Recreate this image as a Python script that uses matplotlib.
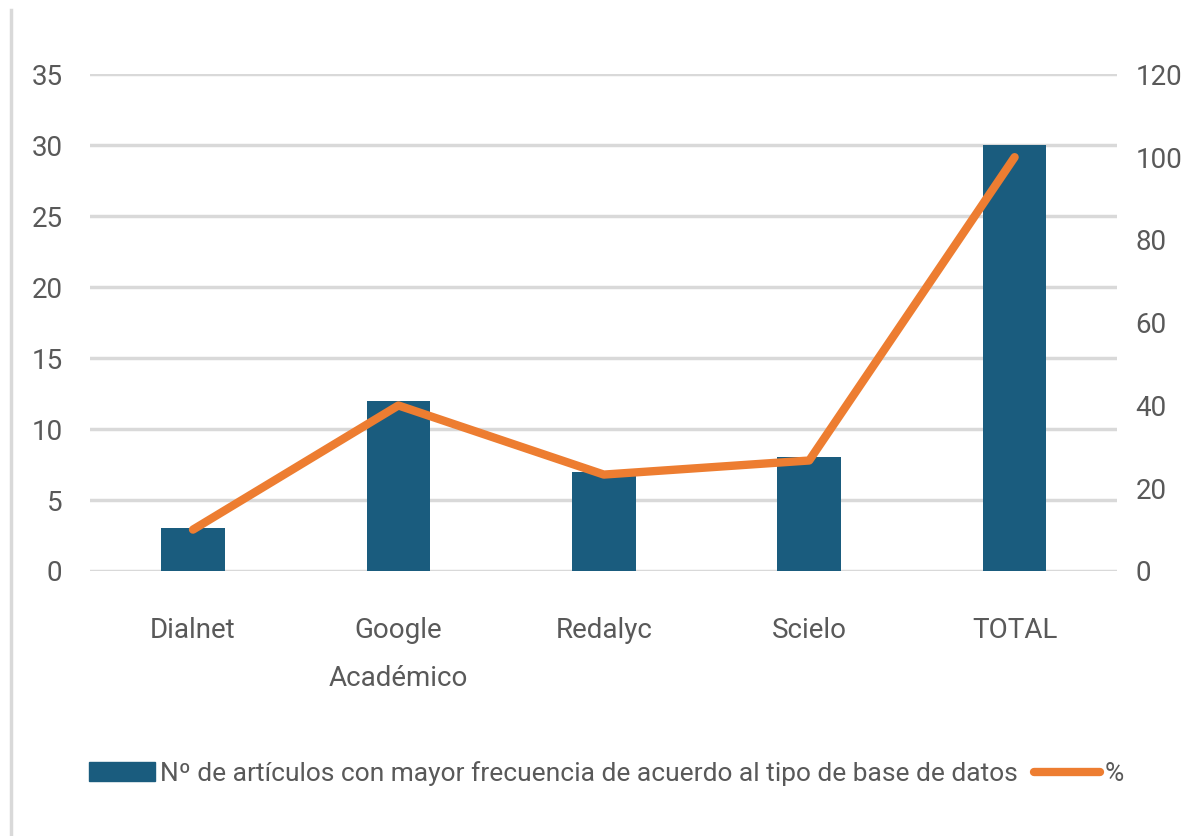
import matplotlib.pyplot as plt
from matplotlib.patches import Patch
from matplotlib.lines import Line2D

# Data
categories = ['Dialnet', 'Google\nAcadémico', 'Redalyc', 'Scielo', 'TOTAL']
articles = [3, 12, 7, 8, 30]
percent = [10, 40, 23.3, 26.7, 100]

bar_color = '#1A5C7E'
line_color = '#ED7D31'
text_color = '#595959'
grid_color = '#D9D9D9'

plt.rcParams['font.family'] = ['Roboto', 'DejaVu Sans']
fs = 20

fig = plt.figure(figsize=(12.04, 8.36), dpi=100)
ax = fig.add_axes([0.075, 0.317, 0.853, 0.594])
ax2 = ax.twinx()

x = range(len(categories))
ax.bar(x, articles, width=0.31, color=bar_color, zorder=2)
ax2.plot(x, percent, color=line_color, linewidth=6, solid_capstyle='round', zorder=3)

ax.set_xlim(-0.5, 4.5)
ax.set_ylim(0, 35)
ax2.set_ylim(0, 120)
ax.set_yticks(range(0, 36, 5))
ax2.set_yticks(range(0, 121, 20))
ax.set_xticks(list(x))
ax.set_xticklabels(categories, linespacing=2.0)

ax.yaxis.grid(True, color=grid_color, linewidth=2.5, zorder=0)
ax.set_axisbelow(True)
for a in (ax, ax2):
    for s in a.spines.values():
        s.set_visible(False)
    a.tick_params(length=0, labelsize=fs, labelcolor=text_color)
ax.tick_params(axis='x', pad=33)
ax.tick_params(axis='y', pad=20)
ax2.tick_params(axis='y', pad=13)

# frame edge visible on the left
fig.add_artist(Line2D([0.009, 0.009], [0.0, 0.988], color=grid_color, linewidth=2.5))

handles = [Patch(color=bar_color),
           Line2D([0], [0], color=line_color, linewidth=6, solid_capstyle='round')]
labels = ['Nº de artículos con mayor frecuencia de acuerdo al tipo de base de datos', '%']
fig.legend(handles, labels, loc='center left', bbox_to_anchor=(0.054, 0.075), ncol=2,
           frameon=False, fontsize=19, labelcolor=text_color, handlelength=2.5,
           handletextpad=0.2, columnspacing=0.6)

fig.savefig('out.png', dpi=100)
